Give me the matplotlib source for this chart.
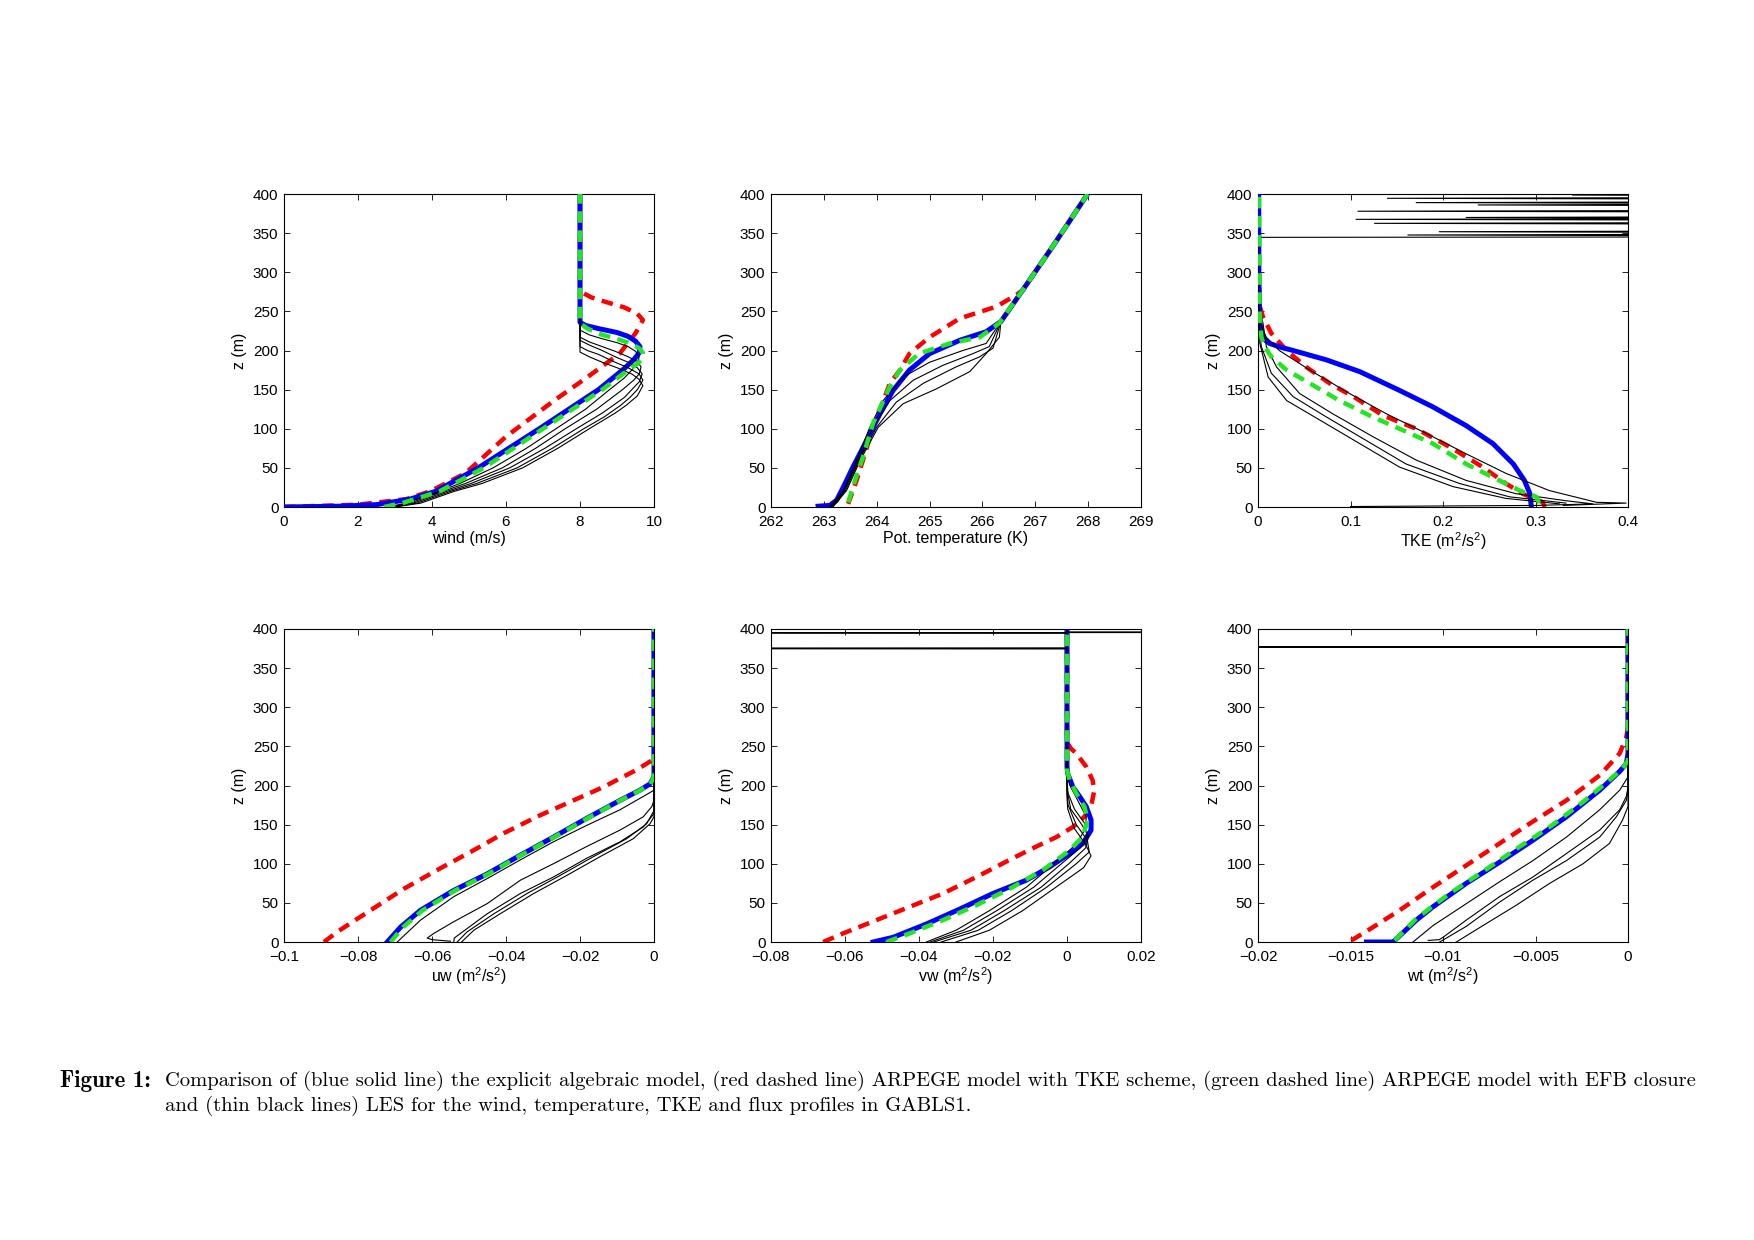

# GABLS1 profiles: explicit algebraic model vs ARPEGE (TKE / EFB) vs LES
import numpy as np
import matplotlib.pyplot as plt
from matplotlib.ticker import FuncFormatter

plt.rcParams['font.family'] = ['Liberation Sans', 'DejaVu Sans']
plt.rcParams['mathtext.default'] = 'regular'

# ---------------- wind (m/s) ----------------
wind_blue_z = [0, 1, 3, 10, 20, 50, 100, 150, 175, 188, 197, 205, 212, 218, 223, 228, 232, 236, 400]
wind_blue_x = [0, 1.5, 2.5, 3.4, 4.1, 5.25, 6.9, 8.5, 9.15, 9.45, 9.6, 9.62, 9.5, 9.3, 9.0, 8.5, 8.15, 8.0, 8.0]
wind_red_z = [0, 3, 10, 20, 43, 90, 136, 166, 196, 222, 239, 247, 255, 262, 268, 273, 278, 400]
wind_red_x = [0, 2.0, 3.3, 3.95, 4.9, 6.0, 7.3, 8.2, 9.07, 9.5, 9.7, 9.55, 9.2, 8.7, 8.3, 8.1, 8.0, 8.0]
wind_green_z = [0, 5, 20, 50, 100, 150, 175, 183, 190, 197, 203, 210, 215, 220, 228, 235, 400]
wind_green_x = [2.7, 3.2, 4.2, 5.4, 7.0, 8.6, 9.3, 9.55, 9.7, 9.7, 9.6, 9.3, 9.0, 8.6, 8.2, 8.0, 8.0]
wind_les_z = [
    [0, 5, 20, 30, 50, 75, 100, 125, 150, 165, 175, 184, 192, 199, 205, 210, 215, 220, 226, 240],
    [0, 5, 20, 30, 50, 75, 100, 125, 150, 162, 170, 179, 186, 192, 199, 205, 211, 217, 240],
    [0, 5, 20, 30, 50, 75, 100, 120, 140, 150, 160, 170, 178, 185, 192, 200, 207, 213, 240],
    [0, 5, 20, 30, 50, 75, 100, 115, 130, 140, 150, 162, 170, 178, 186, 195, 200, 205, 240],
    [0, 5, 20, 30, 50, 75, 100, 110, 120, 130, 142, 155, 163, 170, 178, 185, 192, 198, 240],
]
wind_les_x = [
    [2.8, 3.3, 4.2, 4.75, 5.65, 6.55, 7.35, 8.15, 8.8, 9.2, 9.4, 9.55, 9.6, 9.5, 9.3, 9.0, 8.6, 8.25, 8.0, 8.0],
    [2.85, 3.4, 4.3, 4.9, 5.9, 6.8, 7.6, 8.45, 9.15, 9.45, 9.6, 9.65, 9.55, 9.3, 8.95, 8.6, 8.25, 8.0, 8.0],
    [2.9, 3.5, 4.4, 5.05, 6.1, 7.05, 7.9, 8.6, 9.2, 9.4, 9.6, 9.68, 9.55, 9.3, 8.95, 8.6, 8.25, 8.0, 8.0],
    [2.95, 3.6, 4.5, 5.2, 6.3, 7.25, 8.1, 8.65, 9.1, 9.35, 9.55, 9.7, 9.6, 9.3, 8.9, 8.5, 8.2, 8.0, 8.0],
    [3.0, 3.7, 4.6, 5.35, 6.45, 7.4, 8.25, 8.6, 8.95, 9.25, 9.55, 9.7, 9.6, 9.4, 9.0, 8.6, 8.25, 8.0, 8.0],
]

# ---------------- potential temperature (K) ----------------
th_blue_z = [1, 2, 8.5, 25.6, 51, 85, 119, 149, 175, 196, 213, 224, 237, 277, 333, 400]
th_blue_x = [262.89, 263.11, 263.24, 263.37, 263.55, 263.81, 264.06, 264.31, 264.62, 265.0, 265.57, 266.07, 266.35, 266.76, 267.33, 267.99]
th_red_z = [4, 34, 60, 102, 158, 175, 196, 217, 241, 256, 271, 277, 333, 400]
th_red_x = [263.46, 263.62, 263.74, 263.93, 264.25, 264.44, 264.62, 265.0, 265.57, 266.26, 266.64, 266.76, 267.33, 267.99]
th_green_z = [6, 34, 64, 107, 154, 175, 196, 209, 217, 235, 277, 333, 400]
th_green_x = [263.46, 263.59, 263.74, 263.93, 264.25, 264.44, 264.8, 265.38, 265.95, 266.32, 266.76, 267.33, 267.99]
th_les_z = [
    [0, 21, 60, 102, 136, 166, 185, 200, 209, 237, 277, 333, 400],
    [0, 21, 60, 102, 136, 162, 181, 196, 205, 237],
    [0, 21, 60, 102, 134, 158, 179, 192, 203, 237],
    [0, 21, 60, 102, 132, 151, 173, 196, 217, 237],
]
th_les_x = [
    [263.11, 263.37, 263.62, 263.87, 264.12, 264.5, 265.0, 265.63, 266.07, 266.35, 266.76, 267.33, 267.99],
    [263.13, 263.39, 263.65, 263.93, 264.25, 264.69, 265.25, 265.82, 266.13, 266.35],
    [263.15, 263.41, 263.67, 264.0, 264.37, 264.88, 265.5, 265.95, 266.2, 266.35],
    [263.17, 263.43, 263.69, 264.03, 264.5, 265.13, 265.76, 266.07, 266.32, 266.35],
]

# ---------------- TKE (m2/s2) ----------------
tke_blue_z = [0, 17, 34, 55, 81, 104, 128, 149, 173, 188, 200, 204, 209, 213, 217, 235, 290, 400]
tke_blue_x = [0.2955, 0.294, 0.288, 0.276, 0.254, 0.225, 0.189, 0.153, 0.110, 0.074, 0.038, 0.025, 0.0126, 0.008, 0.0054, 0.002, 0.001, 0.0007]
tke_red_z = [0, 6, 17, 30, 51, 77, 100, 117, 139, 158, 179, 200, 222, 243, 256, 300, 400]
tke_red_x = [0.31, 0.308, 0.286, 0.268, 0.243, 0.207, 0.171, 0.135, 0.106, 0.0775, 0.052, 0.031, 0.0144, 0.0054, 0.002, 0.0007, 0.0005]
tke_green_z = [5, 13, 21, 38, 55, 81, 100, 115, 136, 158, 175, 192, 205, 217, 247, 400]
tke_green_x = [0.304, 0.301, 0.283, 0.254, 0.225, 0.189, 0.153, 0.124, 0.088, 0.056, 0.031, 0.0144, 0.0072, 0.0036, 0.0018, 0.001]
tke_les_z = [
    [2, 5, 6, 21, 43, 68, 94, 119, 145, 175, 200, 217, 235, 260],
    [0.6, 2, 4, 8, 17, 34, 60, 90, 119, 145, 179, 205, 235, 260],
    [5, 13, 30, 55, 85, 115, 141, 171, 205, 240],
    [4, 11, 26, 51, 81, 111, 136, 166, 209, 250, 340, 343, 344.6, 345.2, 346.4, 347.6, 348.8,
     350.6, 351.8, 353.0, 361.3, 362.5, 363.7, 366.4, 367.6, 368.8, 368.8, 370.0, 371.2,
     376.8, 378.0, 379.2, 384.8, 386.0, 387.2, 387.8, 389.0, 390.2, 393.3, 394.5, 395.7,
     397.5, 398.7, 399.9, 400],
]
tke_les_x = [
    [0.33, 0.398, 0.366, 0.315, 0.268, 0.225, 0.182, 0.139, 0.099, 0.056, 0.023, 0.009, 0.002, 0.0],
    [0.10, 0.30, 0.362, 0.333, 0.279, 0.225, 0.171, 0.124, 0.081, 0.045, 0.02, 0.009, 0.0054, 0.0],
    [0.333, 0.272, 0.218, 0.160, 0.117, 0.074, 0.038, 0.0144, 0.0036, 0.0],
    [0.326, 0.268, 0.211, 0.153, 0.110, 0.067, 0.031, 0.011, 0.002, 0.0005, 0.0, 0.0, 0.0, 0.6, 0.6, 0.162, 0.6,
     0.6, 0.196, 0.6, 0.6, 0.126, 0.6, 0.6, 0.106, 0.6, 0.6, 0.225, 0.6,
     0.6, 0.108, 0.6, 0.6, 0.238, 0.6, 0.6, 0.171, 0.6, 0.6, 0.140, 0.6,
     0.6, 0.34, 0.6, 0.6],
]

# ---------------- uw (m2/s2) ----------------
uw_blue_z = [0, 19, 40.6, 66, 87, 111, 134, 158, 181, 194, 202, 211, 400]
uw_blue_x = [-0.0721, -0.0685, -0.0631, -0.0541, -0.0451, -0.0361, -0.0272, -0.0182, -0.0092, -0.0038, -0.0011, 0.0, 0.0]
uw_red_z = [0, 13, 40.6, 68, 92, 115, 139, 160, 179, 198, 220, 232, 241, 400]
uw_red_x = [-0.0892, -0.0856, -0.0766, -0.0676, -0.0586, -0.0496, -0.0406, -0.0317, -0.0227, -0.0137, -0.0047, -0.0006, 0.0, 0.0]
uw_green_z = [0, 19, 40.6, 66, 87, 111, 134, 158, 181, 194, 202, 211, 400]
uw_green_x = [-0.0712, -0.0678, -0.0625, -0.0537, -0.0448, -0.0359, -0.0270, -0.0180, -0.0091, -0.0037, -0.0010, 0.0, 0.0]
uw_les_z = [
    [0, 28, 58, 81, 105, 128, 149, 169, 186, 194, 230],
    [1, 3, 5, 11, 26, 49, 79, 100, 122, 143, 160, 173, 181, 230],
    [0, 5, 11, 36, 62, 83, 107, 128, 147, 164, 230],
    [0, 13, 36, 62, 85, 109, 132, 151, 168, 230],
    [0, 15, 36, 62, 85, 109, 132, 151, 160, 230],
]
uw_les_x = [
    [-0.0694, -0.0631, -0.0541, -0.0451, -0.0361, -0.0272, -0.0182, -0.0092, -0.0029, 0.0, 0.0],
    [-0.0550, -0.0600, -0.0613, -0.0595, -0.0541, -0.0451, -0.0361, -0.0272, -0.0182, -0.0092, -0.0029, -0.0006, 0.0, 0.0],
    [-0.0541, -0.0540, -0.0523, -0.0451, -0.0361, -0.0272, -0.0182, -0.0092, -0.0029, 0.0, 0.0],
    [-0.0532, -0.0505, -0.0433, -0.0343, -0.0254, -0.0164, -0.0074, -0.0020, 0.0, 0.0],
    [-0.0520, -0.0487, -0.0416, -0.0325, -0.0236, -0.0146, -0.0056, -0.0011, 0.0, 0.0],
]

# ---------------- vw (m2/s2) ----------------
vw_blue_z = [0, 6, 23, 42, 62, 79, 96, 113, 126, 143, 156, 173, 186, 198, 215, 224, 400]
vw_blue_x = [-0.0524, -0.047, -0.038, -0.029, -0.020, -0.011, -0.0047, 0.0007, 0.0043, 0.0065, 0.0065, 0.0052, 0.0034, 0.0016, 0.0002, 0.0, 0.0]
vw_red_z = [0, 11, 28, 45, 62, 83, 105, 122, 134, 147, 160, 173, 194, 207, 224, 241, 247, 255, 400]
vw_red_x = [-0.0659, -0.0605, -0.0515, -0.0425, -0.0335, -0.0245, -0.0155, -0.0083, -0.0029, 0.0016, 0.0047, 0.0065, 0.0074, 0.0069, 0.0052, 0.0025, 0.0011, 0.0, 0.0]
vw_green_z = [0, 11, 28, 47, 68, 92, 117, 135, 156, 173, 190, 207, 220, 400]
vw_green_x = [-0.0488, -0.0425, -0.0335, -0.0245, -0.0155, -0.0065, 0.0007, 0.0043, 0.0056, 0.0047, 0.0025, 0.0007, 0.0, 0.0]
vw_les_z = [
    [0, 15, 40, 70, 100, 125, 145, 160, 180, 200, 215, 374.5, 375.2, 375.9, 394.6, 395.2, 395.7, 396.3, 400],
    [0, 15, 40, 70, 100, 120, 135, 150, 170, 190, 205, 250],
    [0, 15, 40, 70, 100, 120, 135, 150, 170, 195, 250],
    [0, 15, 40, 70, 100, 115, 130, 150, 175, 190, 250],
    [0, 15, 40, 70, 95, 110, 125, 145, 170, 185, 250],
]
vw_les_x = [
    [-0.038, -0.030, -0.021, -0.011, -0.0035, 0.0025, 0.0050, 0.0052, 0.0030, 0.0008, 0.0, 0.0, -0.3, 0.0, 0.0, -0.3, 0.3, 0.0, 0.0],
    [-0.037, -0.028, -0.019, -0.009, -0.0015, 0.0035, 0.0055, 0.0050, 0.0020, 0.0003, 0.0, 0.0],
    [-0.036, -0.026, -0.017, -0.007, 0.0005, 0.0050, 0.0058, 0.0040, 0.0010, 0.0, 0.0],
    [-0.034, -0.024, -0.015, -0.0055, 0.0025, 0.0060, 0.0055, 0.0025, 0.0003, 0.0, 0.0],
    [-0.030, -0.021, -0.012, -0.003, 0.0045, 0.0065, 0.0050, 0.0020, 0.0002, 0.0, 0.0],
]

# ---------------- wt ----------------
wt_blue_z = [0, 0, 4, 28, 45, 75, 102, 130, 160, 194, 218, 228, 241, 400]
wt_blue_x = [-0.01414, -0.0127, -0.01252, -0.01144, -0.01054, -0.00874, -0.00694, -0.00514, -0.00333, -0.00153, -0.00045, -0.00009, 0.0, 0.0]
wt_red_z = [2, 19, 40.6, 70, 98, 126, 154, 181, 213, 241, 262, 275, 400]
wt_red_x = [-0.01495, -0.01378, -0.01234, -0.01054, -0.00874, -0.00694, -0.00514, -0.00333, -0.00153, -0.00045, -0.00009, 0.0, 0.0]
wt_green_z = [2, 30, 62, 90, 119, 147, 179, 207, 222, 232, 400]
wt_green_x = [-0.01261, -0.01144, -0.00964, -0.00784, -0.00604, -0.00423, -0.00243, -0.001, -0.00029, 0.0, 0.0]
wt_les_z = [
    [0, 21, 49, 77, 104, 134, 169, 194, 211, 376.5, 377.0, 377.5, 400],
    [2, 3, 6, 28, 58, 83, 113, 143, 169, 186, 198, 250],
    [0, 20, 51, 79, 104, 134, 160, 181, 194, 250],
    [0, 21, 47, 75, 100, 126, 156, 173, 250],
]
wt_les_x = [
    [-0.01162, -0.01054, -0.00874, -0.00694, -0.00514, -0.00333, -0.00153, -0.00045, 0.0, 0.0, -0.1, 0.0, 0.0],
    [-0.0108, -0.0102, -0.0100, -0.00874, -0.00694, -0.00514, -0.00333, -0.00153, -0.00045, -0.00009, 0.0, 0.0],
    [-0.01018, -0.00874, -0.00694, -0.00514, -0.00333, -0.00153, -0.00063, -0.00009, 0.0, 0.0],
    [-0.00928, -0.00784, -0.00604, -0.00423, -0.00243, -0.001, -0.00029, 0.0, 0.0],
]

panels = [
    (wind_blue_x, wind_blue_z, wind_red_x, wind_red_z, wind_green_x, wind_green_z, wind_les_x, wind_les_z,
     (0, 10), np.arange(0, 10.1, 2), 'wind (m/s)'),
    (th_blue_x, th_blue_z, th_red_x, th_red_z, th_green_x, th_green_z, th_les_x, th_les_z,
     (262, 269), np.arange(262, 269.1, 1), 'Pot. temperature (K)'),
    (tke_blue_x, tke_blue_z, tke_red_x, tke_red_z, tke_green_x, tke_green_z, tke_les_x, tke_les_z,
     (0, 0.4), np.arange(0, 0.41, 0.1), 'TKE (m$^2$/s$^2$)'),
    (uw_blue_x, uw_blue_z, uw_red_x, uw_red_z, uw_green_x, uw_green_z, uw_les_x, uw_les_z,
     (-0.1, 0), np.arange(-0.1, 0.001, 0.02), 'uw (m$^2$/s$^2$)'),
    (vw_blue_x, vw_blue_z, vw_red_x, vw_red_z, vw_green_x, vw_green_z, vw_les_x, vw_les_z,
     (-0.08, 0.02), np.arange(-0.08, 0.021, 0.02), 'vw (m$^2$/s$^2$)'),
    (wt_blue_x, wt_blue_z, wt_red_x, wt_red_z, wt_green_x, wt_green_z, wt_les_x, wt_les_z,
     (-0.02, 0), np.arange(-0.02, 0.0001, 0.005), 'wt (m$^2$/s$^2$)'),
]

def fmt(v, pos):
    s = '%g' % round(v, 6)
    if s == '-0':
        s = '0'
    return s.replace('-', '\u2212')

fig = plt.figure(figsize=(17.54, 12.40), dpi=100)

lefts = [284 / 1754, 771 / 1754, 1258 / 1754]
bottoms = [1 - 507 / 1240, 1 - 942 / 1240]
w = 370 / 1754
h = 313 / 1240

for i, p in enumerate(panels):
    bx, bz, rx, rz, gx, gz, lx, lz, xlim, xt, xlab = p
    ax = fig.add_axes([lefts[i % 3], bottoms[i // 3], w, h])
    for xs, zs in zip(lx, lz):
        ax.plot(xs, zs, color='black', lw=0.8, zorder=4)
    ax.plot(rx, rz, color='red', lw=3.2, dashes=(2.6, 1.7), zorder=2)
    ax.plot(bx, bz, color='blue', lw=3.6, zorder=3)
    ax.plot(gx, gz, color='#22e622', lw=3.2, dashes=(2.6, 1.7), zorder=5)
    ax.set_xlim(xlim)
    ax.set_ylim(0, 400)
    ax.set_xticks(xt)
    ax.set_yticks(np.arange(0, 401, 50))
    ax.xaxis.set_major_formatter(FuncFormatter(fmt))
    ax.yaxis.set_major_formatter(FuncFormatter(fmt))
    ax.tick_params(direction='in', top=True, right=True, length=4, width=0.6, labelsize=11)
    ax.tick_params(axis='x', pad=6)
    ax.tick_params(axis='y', pad=4)
    for s in ax.spines.values():
        s.set_linewidth(0.8)
    ax.set_xlabel(xlab, fontsize=11.5, labelpad=1)
    ax.set_ylabel('z (m)', fontsize=11.5, labelpad=4)

fig.text(60 / 1754, 1 - 1081 / 1240, 'Figure 1:', family='cmb10', fontsize=16.5, va='center')
fig.text(165 / 1754, 1 - 1081 / 1240,
         'Comparison of (blue solid line) the explicit algebraic model, (red dashed line) ARPEGE model with TKE scheme, '
         '(green dashed line) ARPEGE model with EFB closure',
         family='cmr10', fontsize=14.8, va='center')
fig.text(165 / 1754, 1 - 1106 / 1240,
         'and (thin black lines) LES for the wind, temperature, TKE and flux profiles in GABLS1.',
         family='cmr10', fontsize=14.8, va='center')

fig.savefig('out.png', dpi=100)
